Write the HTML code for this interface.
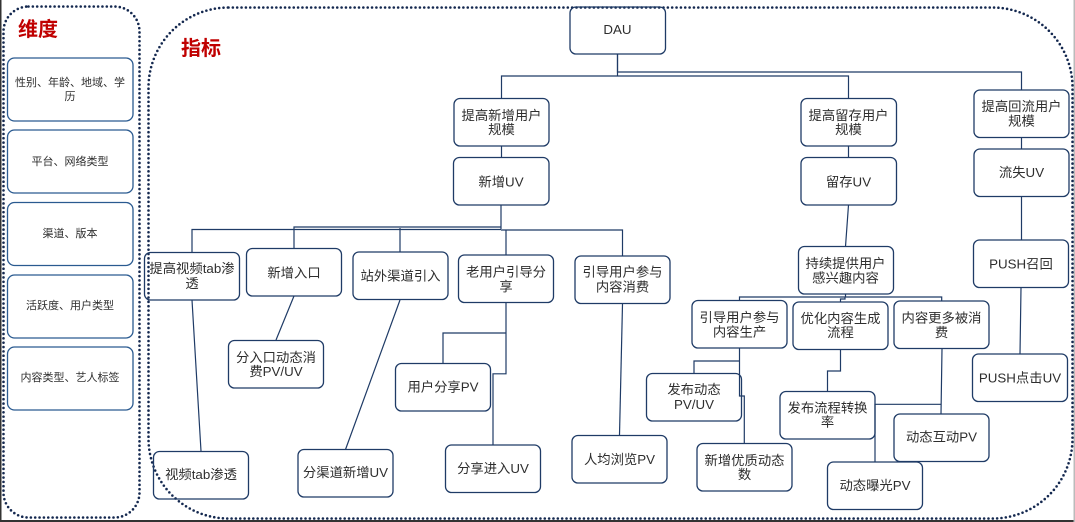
<!DOCTYPE html>
<html><head><meta charset="utf-8"><style>
html,body{margin:0;padding:0;background:#fff;width:1075px;height:522px;overflow:hidden}
svg{display:block}
text{font-family:"Liberation Sans","Noto Sans CJK SC",sans-serif;font-size:13.33px;fill:#2e2e2e;text-anchor:middle}
.s text{font-size:11px}
.t{font-size:20px;font-weight:bold;fill:#c00000;text-anchor:start}
.b rect{fill:none;stroke:#1f3b66;stroke-width:1.3}
.l rect{fill:none;stroke:#2a5a90;stroke-width:1.3}
.c path{fill:none;stroke:#1f3b66;stroke-width:1.2}
.d rect{fill:none;stroke:#14284f;stroke-width:2.6;stroke-linecap:round;stroke-dasharray:0 4.35}
</style></head><body>
<svg width="1075" height="522" viewBox="0 0 1075 522" xmlns="http://www.w3.org/2000/svg">
<rect x="0" y="0" width="1.5" height="522" fill="#333"/>
<rect x="0" y="520" width="1075" height="2" fill="#333"/>
<rect x="1073.5" y="0" width="1.5" height="522" fill="#bbb"/>
<g class="d">
<rect x="3.5" y="6.5" width="136" height="511" rx="25"/>
<rect x="148.5" y="7.5" width="924" height="511" rx="80"/>
</g>
<g class="l">
<rect x="7.5" y="58" width="125.500" height="63" rx="7"/>
<rect x="7.5" y="130" width="125.500" height="63" rx="7"/>
<rect x="7.5" y="202.500" width="125.500" height="63" rx="7"/>
<rect x="7.5" y="275" width="125.500" height="63" rx="7"/>
<rect x="7.5" y="347" width="125.500" height="63" rx="7"/>
</g>
<g class="c">
<path d="M617.500 54V76M501.500 98V76H848.500V98"/>
<path d="M617.500 54V72H1021.500V90"/>
<path d="M501.500 146V157.500M501 205V229M501 227H294V248M501 229.500H192V252M400 228V252M501 230H622.500V256M506 230V255"/>
<path d="M192 300L201 451M294 296L276 340M400 300L345.500 449.500"/>
<path d="M506 303V373.800H493V445M506 333H443V363.500"/>
<path d="M622.500 304L619.500 435"/>
<path d="M848.500 146V157.500M848.500 205L845.500 246.500"/>
<path d="M1021.500 137.500V149M1021.500 196V240M1021 288L1020 354"/>
<path d="M845.500 294V297M739.500 300V297H941.700V301M845 297V299H840.500V302"/>
<path d="M739.500 348V396H744.300V443M739.500 361H694V373.500"/>
<path d="M840.500 350V371H827.500V391"/>
<path d="M942 349L941 414M941.500 404.300H875V462"/>
</g>
<g class="b">
<rect x="570" y="7" width="95.500" height="47" rx="6"/>
<rect x="454" y="98.500" width="95" height="47.500" rx="6"/>
<rect x="453.500" y="157.500" width="95.500" height="47.500" rx="6"/>
<rect x="801" y="98.500" width="95.500" height="47.500" rx="6"/>
<rect x="801" y="157.500" width="95.500" height="47.500" rx="6"/>
<rect x="974" y="90" width="95" height="47.500" rx="6"/>
<rect x="974" y="149" width="95" height="47.500" rx="6"/>
<rect x="973.500" y="240" width="95" height="47.500" rx="6"/>
<rect x="972.500" y="354" width="95" height="47.500" rx="6"/>
<rect x="798.500" y="246.500" width="95" height="47.500" rx="6"/>
<rect x="692" y="300.500" width="95" height="47.500" rx="6"/>
<rect x="793" y="302" width="95" height="47.500" rx="6"/>
<rect x="894" y="301" width="95" height="47.500" rx="6"/>
<rect x="646.500" y="373.500" width="95" height="47.500" rx="6"/>
<rect x="697" y="443.500" width="95" height="47.500" rx="6"/>
<rect x="780" y="391.500" width="95" height="47.500" rx="6"/>
<rect x="894" y="414" width="95" height="47.500" rx="6"/>
<rect x="827.500" y="462" width="95" height="47.500" rx="6"/>
<rect x="572" y="435.500" width="95" height="47.500" rx="6"/>
<rect x="445.500" y="445" width="95" height="47.500" rx="6"/>
<rect x="395.500" y="363.500" width="95" height="47.500" rx="6"/>
<rect x="458.500" y="255" width="95" height="47.500" rx="6"/>
<rect x="575" y="256" width="95" height="47.500" rx="6"/>
<rect x="353" y="252" width="95" height="47.500" rx="6"/>
<rect x="246.500" y="248.500" width="95" height="47.500" rx="6"/>
<rect x="144.500" y="252.500" width="95" height="47.500" rx="6"/>
<rect x="228.500" y="340.500" width="95" height="47.500" rx="6"/>
<rect x="153.500" y="451.500" width="95" height="47.500" rx="6"/>
<rect x="298" y="449.500" width="95" height="47.500" rx="6"/>
</g>
<text class="t" x="18" y="36">维度</text>
<text class="t" x="181" y="55">指标</text>
<g class="s">
<text x="70" y="86">性别、年龄、地域、学</text><text x="70" y="100">历</text>
<text x="70" y="165">平台、网络类型</text>
<text x="70" y="237">渠道、版本</text>
<text x="70" y="309">活跃度、用户类型</text>
<text x="70" y="381">内容类型、艺人标签</text>
</g>
<text x="617.500" y="34">DAU</text>
<text x="501.500" y="120">提高新增用户</text><text x="501.500" y="134">规模</text>
<text x="501" y="186.500">新增UV</text>
<text x="848.500" y="120">提高留存用户</text><text x="848.500" y="134">规模</text>
<text x="848.500" y="186.500">留存UV</text>
<text x="1021.500" y="111">提高回流用户</text><text x="1021.500" y="125.500">规模</text>
<text x="1021.500" y="177">流失UV</text>
<text x="1021" y="268.500">PUSH召回</text>
<text x="1020" y="382.500">PUSH点击UV</text>
<text x="845.500" y="268">持续提供用户</text><text x="845.500" y="282.500">感兴趣内容</text>
<text x="739.500" y="322">引导用户参与</text><text x="739.500" y="336.500">内容生产</text>
<text x="840.500" y="323">优化内容生成</text><text x="840.500" y="337">流程</text>
<text x="941.500" y="322.500">内容更多被消</text><text x="941.500" y="337">费</text>
<text x="694" y="394">发布动态</text><text x="694" y="409">PV/UV</text>
<text x="744.500" y="465">新增优质动态</text><text x="744.500" y="479">数</text>
<text x="827.500" y="412.500">发布流程转换</text><text x="827.500" y="426.500">率</text>
<text x="941.500" y="441.500">动态互动PV</text>
<text x="875" y="490">动态曝光PV</text>
<text x="619.500" y="464">人均浏览PV</text>
<text x="493" y="473">分享进入UV</text>
<text x="443" y="391.500">用户分享PV</text>
<text x="506" y="276.500">老用户引导分</text><text x="506" y="291">享</text>
<text x="622.500" y="276.500">引导用户参与</text><text x="622.500" y="291.500">内容消费</text>
<text x="400.500" y="280.500">站外渠道引入</text>
<text x="294" y="277.500">新增入口</text>
<text x="192" y="273">提高视频tab渗</text><text x="192" y="288">透</text>
<text x="276" y="362">分入口动态消</text><text x="276" y="376">费PV/UV</text>
<text x="201" y="479">视频tab渗透</text>
<text x="345.500" y="477">分渠道新增UV</text>
</svg>
</body></html>
